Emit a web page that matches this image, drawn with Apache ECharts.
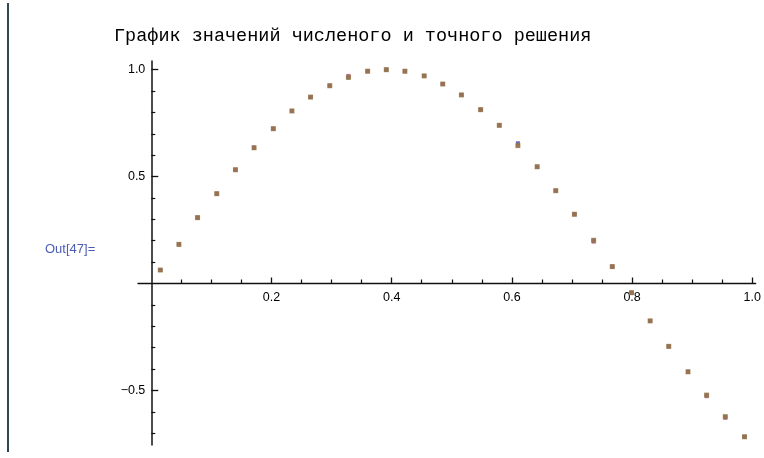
<!DOCTYPE html>
<html>
<head>
<meta charset="utf-8">
<script src="https://cdn.jsdelivr.net/npm/echarts@6/dist/echarts.min.js"></script>
<style>
html,body{margin:0;padding:0;background:#fff;}
#chart{width:764px;height:458px;}
</style>
</head>
<body>
<div id="chart"></div>
<script>
// x positions of the points
const xValues = [0.015,0.046,0.077,0.109,0.140,0.171,0.203,0.234,0.265,0.297,0.328,0.360,0.391,0.422,0.454,0.485,0.516,0.548,0.579,0.610,0.642,0.673,0.704,0.736,0.767,0.799,0.830,0.861,0.893,0.924,0.955,0.987];
// series 1 (blue, drawn first)
const seriesBlue = [0.063,0.183,0.308,0.420,0.532,0.635,0.724,0.807,0.872,0.925,0.964,0.993,1.000,0.993,0.971,0.933,0.882,0.813,0.740,0.656,0.546,0.434,0.324,0.202,0.079,-0.043,-0.175,-0.294,-0.413,-0.522,-0.623,-0.717];
// series 2 (purple)
const seriesPurple = [0.063,0.183,0.308,0.420,0.532,0.635,0.724,0.807,0.872,0.925,0.971,0.993,1.000,0.993,0.971,0.933,0.882,0.813,0.740,0.645,0.546,0.434,0.324,0.196,0.079,-0.043,-0.175,-0.294,-0.413,-0.527,-0.628,-0.717];
// series 3 (brown, on top)
const seriesBrown = [0.063,0.183,0.308,0.420,0.532,0.635,0.724,0.807,0.872,0.925,0.964,0.993,1.000,0.993,0.971,0.933,0.882,0.813,0.740,0.645,0.546,0.434,0.324,0.202,0.079,-0.043,-0.175,-0.294,-0.413,-0.522,-0.623,-0.717];
// ticks
const xMajorTicks = [0.2,0.4,0.6,0.8,1.0];
const xMinorTicks = [0.05,0.1,0.15,0.25,0.3,0.35,0.45,0.5,0.55,0.65,0.7,0.75,0.85,0.9,0.95];
const yMajorTicks = [-0.5,0.5,1.0];
const yMinorTicks = [-0.7,-0.6,-0.4,-0.3,-0.2,-0.1,0.1,0.2,0.3,0.4,0.6,0.7,0.8,0.9];
const titleText = 'График значений численого и точного решения';
const outLabel = 'Out[47]=';

const pair = ys => xValues.map((x, i) => [x, ys[i]]);
const fmt = v => v.toFixed(1).replace('-', '\u2212');

const X_MIN = -0.0221, X_MAX = 1.0056, Y_MIN = -0.7554, Y_MAX = 1.0407;
const GRID = {left:138, right:7.3, top:61, bottom:13};
const PLOT_W = 764 - GRID.left - GRID.right, PLOT_H = 458 - GRID.top - GRID.bottom;
// axes cross at value 0 of the other axis
const xAxisOffset = -PLOT_H * (0 - Y_MIN) / (Y_MAX - Y_MIN);
const yAxisOffset = -PLOT_W * (0 - X_MIN) / (X_MAX - X_MIN);

const axisColor = '#111';
const labelStyle = {color:'#000', fontSize:12.5, fontFamily:'Liberation Sans, Arial, sans-serif'};

const chart = echarts.init(document.getElementById('chart'), null, {renderer:'canvas'});
chart.setOption({
  animation:false,
  backgroundColor:'#fff',
  title:{
    text:titleText, left:109, top:22,
    textStyle:{fontFamily:'Liberation Mono, Courier New, monospace', fontSize:18.5, fontWeight:'normal', color:'#000'}
  },
  graphic:[
    {type:'line', shape:{x1:8,y1:3,x2:8,y2:452}, style:{stroke:'#2f4550', lineWidth:2}, silent:true},
    {type:'text', left:45, top:243, style:{text:outLabel, fill:'#4d5db3', font:'13px Liberation Sans, Arial, sans-serif'}, silent:true}
  ],
  grid:Object.assign({containLabel:false}, GRID),
  xAxis:[
    {type:'value', min:X_MIN, max:X_MAX, position:'bottom', offset:xAxisOffset,
     axisLine:{show:true, onZero:false, lineStyle:{color:axisColor, width:1.3}},
     axisTick:{show:true, inside:true, length:6, customValues:xMajorTicks, lineStyle:{color:axisColor, width:1.3}},
     axisLabel:Object.assign({show:true, customValues:xMajorTicks, formatter:fmt, margin:8}, labelStyle),
     splitLine:{show:false}},
    {type:'value', min:X_MIN, max:X_MAX, position:'bottom', offset:xAxisOffset,
     axisLine:{show:false, onZero:false},
     axisTick:{show:true, inside:true, length:4, customValues:xMinorTicks, lineStyle:{color:axisColor, width:1.2}},
     axisLabel:{show:false},
     splitLine:{show:false}}
  ],
  yAxis:[
    {type:'value', min:Y_MIN, max:Y_MAX, position:'left', offset:yAxisOffset,
     axisLine:{show:true, onZero:false, lineStyle:{color:axisColor, width:1.5}},
     axisTick:{show:true, inside:true, length:7, customValues:yMajorTicks, lineStyle:{color:axisColor, width:1.3}},
     axisLabel:Object.assign({show:true, customValues:yMajorTicks, formatter:fmt, margin:6}, labelStyle),
     splitLine:{show:false}},
    {type:'value', min:Y_MIN, max:Y_MAX, position:'left', offset:yAxisOffset,
     axisLine:{show:false, onZero:false},
     axisTick:{show:true, inside:true, length:4, customValues:yMinorTicks, lineStyle:{color:axisColor, width:1.2}},
     axisLabel:{show:false},
     splitLine:{show:false}}
  ],
  series:[
    {type:'scatter', name:'blue', data:pair(seriesBlue), symbol:'rect', symbolSize:4, itemStyle:{color:'rgb(70,70,170)'}, silent:true},
    {type:'scatter', name:'purple', data:pair(seriesPurple), symbol:'rect', symbolSize:4, itemStyle:{color:'rgb(170,60,130)'}, silent:true},
    {type:'scatter', name:'brown', data:pair(seriesBrown), symbol:'rect', symbolSize:5, itemStyle:{color:'rgb(150,124,68)'}, silent:true}
  ]
});
</script>
</body>
</html>
